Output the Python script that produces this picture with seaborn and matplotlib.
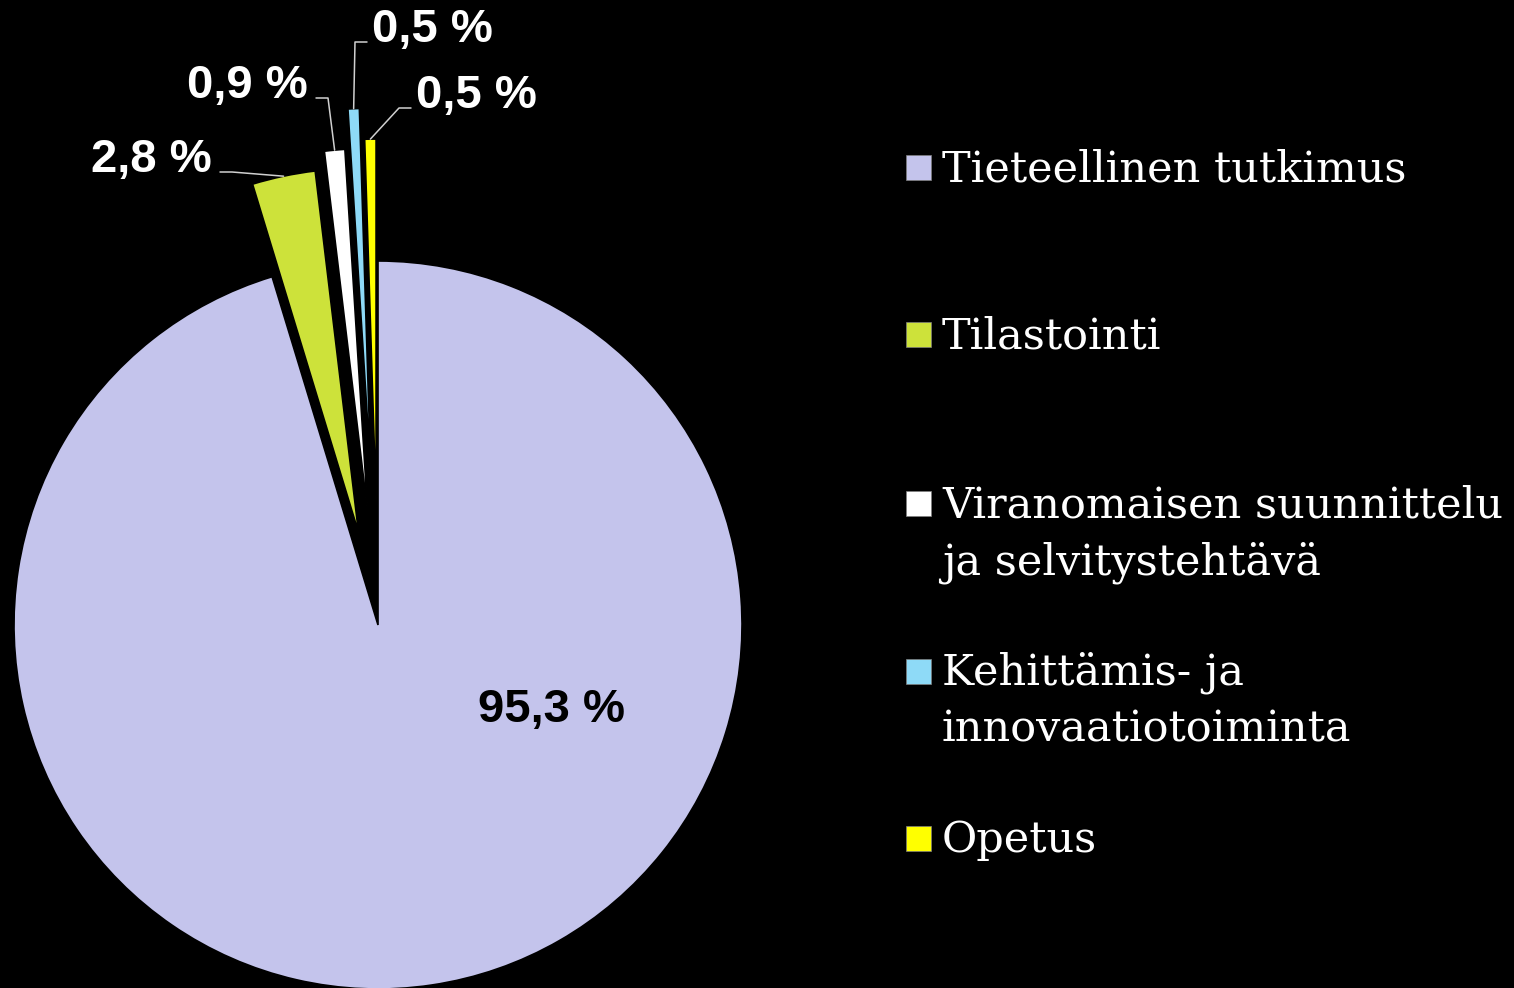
import numpy as np
import matplotlib
matplotlib.use("Agg")
import matplotlib.pyplot as plt
from matplotlib.patches import Rectangle
import seaborn as sns

# Osuudet (%) tehtävittäin
categories = ["Tieteellinen tutkimus", "Tilastointi",
              "Viranomaisen suunnittelu\nja selvitystehtävä",
              "Kehittämis- ja\ninnovaatiotoiminta", "Opetus"]
shares = [95.3, 2.8, 0.9, 0.5, 0.5]
share_labels = ["95,3 %", "2,8 %", "0,9 %", "0,5 %", "0,5 %"]
slice_colors = ["#C4C4EC", "#CDE23A", "#FFFFFF", "#8EDAF7", "#FFFF00"]
explode = [0, 0.26, 0.31, 0.42, 0.335]

W, H = 1514, 988
CX, CY, R = 378, 625, 364  # piirakan keskipiste ja säde pikseleinä

sns.set_theme(style="dark", rc={"axes.facecolor": "black", "figure.facecolor": "black"})
plt.rcParams["font.family"] = ["Liberation Sans", "DejaVu Sans"]


def px(x, y):
    # pikselit (ylhäältä) -> datakoordinaatit
    return (x - CX) / R, (CY - y) / R


fig = plt.figure(figsize=(W / 100, H / 100), dpi=100, facecolor="black")
ax = fig.add_axes([0, 0, 1, 1])
ax.set_facecolor("black")

wedges, _ = ax.pie(shares, colors=sns.color_palette(slice_colors), explode=explode,
                   startangle=90, counterclock=False, radius=1,
                   wedgeprops=dict(edgecolor="black", linewidth=1.2))
ax.set_xlim(-CX / R, (W - CX) / R)
ax.set_ylim((CY - H) / R, CY / R)
ax.set_aspect("auto")
ax.axis("off")

# Iso osuus piirakan sisään
lx, ly = px(552, 710)
ax.text(lx, ly, share_labels[0], ha="center", va="center", fontsize=34,
        fontweight="bold", color="black")

# Pienten osuuksien selitteet johtoviivoineen: (tekstin reuna x, perusviiva y, ha)
label_pos = [None, (212, 172, "right"), (308, 98, "right"),
             (372, 42, "left"), (416, 108, "left")]
for i in range(1, len(shares)):
    w = wedges[i]
    tx, ty, ha = label_pos[i]
    x, y = px(tx, ty)
    ax.text(x, y, share_labels[i], ha=ha, va="baseline", fontsize=34,
            fontweight="bold", color="white")
    mid = np.deg2rad((w.theta1 + w.theta2) / 2)
    ax_x = w.center[0] + w.r * np.cos(mid)
    ax_y = w.center[1] + w.r * np.sin(mid)
    sx = tx + 8 if ha == "right" else tx - 5
    bx = sx + 12 if ha == "right" else sx - 12
    p0 = px(sx, ty)
    p1 = px(bx, ty)
    ax.plot([p0[0], p1[0], ax_x], [p0[1], p1[1], ax_y], color="#D0D0D0", lw=1.1)

# Selite käsin
base_y = [181, 348, 517, 685, 852]
for i, (cat, col) in enumerate(zip(categories, slice_colors)):
    x0, y0 = px(906, base_y[i] - 1)
    ax.add_patch(Rectangle((x0, y0), 25 / R, 25 / R, facecolor=col,
                           edgecolor="#808080", lw=0.5))
    for j, line in enumerate(cat.split("\n")):
        tx, ty = px(942, base_y[i] + j * 57)
        ax.text(tx, ty, line, ha="left", va="baseline", fontsize=31,
                family="DejaVu Serif", color="white")

fig.savefig("out.png", dpi=100, facecolor="black")
